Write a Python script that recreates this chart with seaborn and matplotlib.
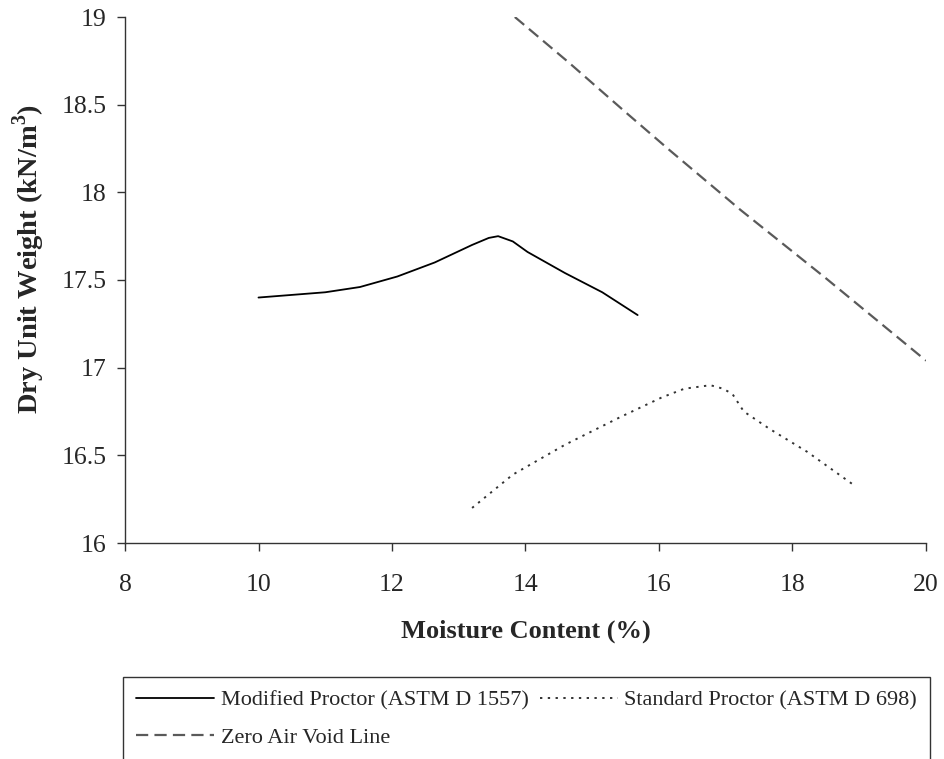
import numpy as np
import pandas as pd
import matplotlib
matplotlib.use("Agg")
import matplotlib.pyplot as plt
import seaborn as sns

# Data
mod_w = [10.0, 11.0, 11.52, 12.08, 12.64, 13.20, 13.45, 13.59, 13.81, 14.03, 14.31, 14.59, 15.15, 15.68]
mod_g = [17.40, 17.43, 17.46, 17.52, 17.60, 17.70, 17.74, 17.75, 17.72, 17.66, 17.60, 17.54, 17.43, 17.30]
std_w = [13.20, 13.81, 14.59, 15.43, 16.04, 16.38, 16.77, 16.96, 17.10, 17.27, 17.66, 18.22, 18.92]
std_g = [16.20, 16.39, 16.56, 16.72, 16.83, 16.88, 16.90, 16.88, 16.85, 16.75, 16.65, 16.52, 16.33]
zav_w = [13.84, 14.65, 15.49, 16.16, 17.22, 18.50, 20.0]
zav_g = [19.00, 18.74, 18.46, 18.24, 17.90, 17.51, 17.04]

series_names = ["Modified Proctor (ASTM D 1557)", "Standard Proctor (ASTM D 698)", "Zero Air Void Line"]
x_ticks = [8, 10, 12, 14, 16, 18, 20]
y_ticks = [16, 16.5, 17, 17.5, 18, 18.5, 19]
y_tick_labels = ["16", "16.5", "17", "17.5", "18", "18.5", "19"]

sns.set_style("ticks")
plt.rcParams["font.family"] = ["Liberation Serif", "DejaVu Serif"]
plt.rcParams["mathtext.fontset"] = "custom"
plt.rcParams["mathtext.rm"] = "Liberation Serif"
plt.rcParams["mathtext.bf"] = "Liberation Serif:bold"

fig = plt.figure(figsize=(9.45, 7.59), dpi=100)
ax = fig.add_axes([125/945, 1-543/759, (926-125)/945, (543-17)/759])

df_mod = pd.DataFrame({"w": mod_w, "g": mod_g})
df_std = pd.DataFrame({"w": std_w, "g": std_g})
df_zav = pd.DataFrame({"w": zav_w, "g": zav_g})

sns.lineplot(data=df_mod, x="w", y="g", ax=ax, sort=False, estimator=None,
             color="black", lw=1.3, label=series_names[0])
sns.lineplot(data=df_std, x="w", y="g", ax=ax, sort=False, estimator=None,
             color="#333333", lw=1.4, linestyle=(0, (1.2, 2.8)), label=series_names[1])
sns.lineplot(data=df_zav, x="w", y="g", ax=ax, sort=False, estimator=None,
             color="#5a5a5a", lw=1.6, linestyle=(0, (5.5, 2.8)), label=series_names[2])

ax.set_xlim(8, 20)
ax.set_ylim(16, 19)
ax.set_xticks(x_ticks)
ax.set_yticks(y_ticks)
ax.set_yticklabels(y_tick_labels)
ax.tick_params(axis="both", labelsize=18.5, length=5.8, width=1, color="#333333")
ax.tick_params(axis="y", pad=7.5)
ax.tick_params(axis="x", pad=16.5)
for s in ["top", "right"]:
    ax.spines[s].set_visible(False)
for s in ["left", "bottom"]:
    ax.spines[s].set_color("#333333")
    ax.spines[s].set_linewidth(1)

ax.set_xlabel("Moisture Content (%)", fontsize=19, fontweight="bold", labelpad=17)
ax.set_ylabel(r"Dry Unit Weight (kN/m$^{\mathbf{3}}$)", fontsize=20.5, fontweight="bold")
ax.yaxis.set_label_coords(-0.098, 0.54)

handles, labels = ax.get_legend_handles_labels()
ax.get_legend().remove()
order = [0, 2, 1]
leg = fig.legend([handles[i] for i in order], [labels[i] for i in order],
                 loc="upper left", bbox_to_anchor=(123/945, 1-677/759), ncol=2,
                 fontsize=16, frameon=True, fancybox=False, edgecolor="black",
                 handlelength=3.5, handletextpad=0.3, columnspacing=0.5,
                 borderpad=0.6, labelspacing=0.75, borderaxespad=0)
leg.get_frame().set_linewidth(1)

fig.savefig("out.png", dpi=100)
